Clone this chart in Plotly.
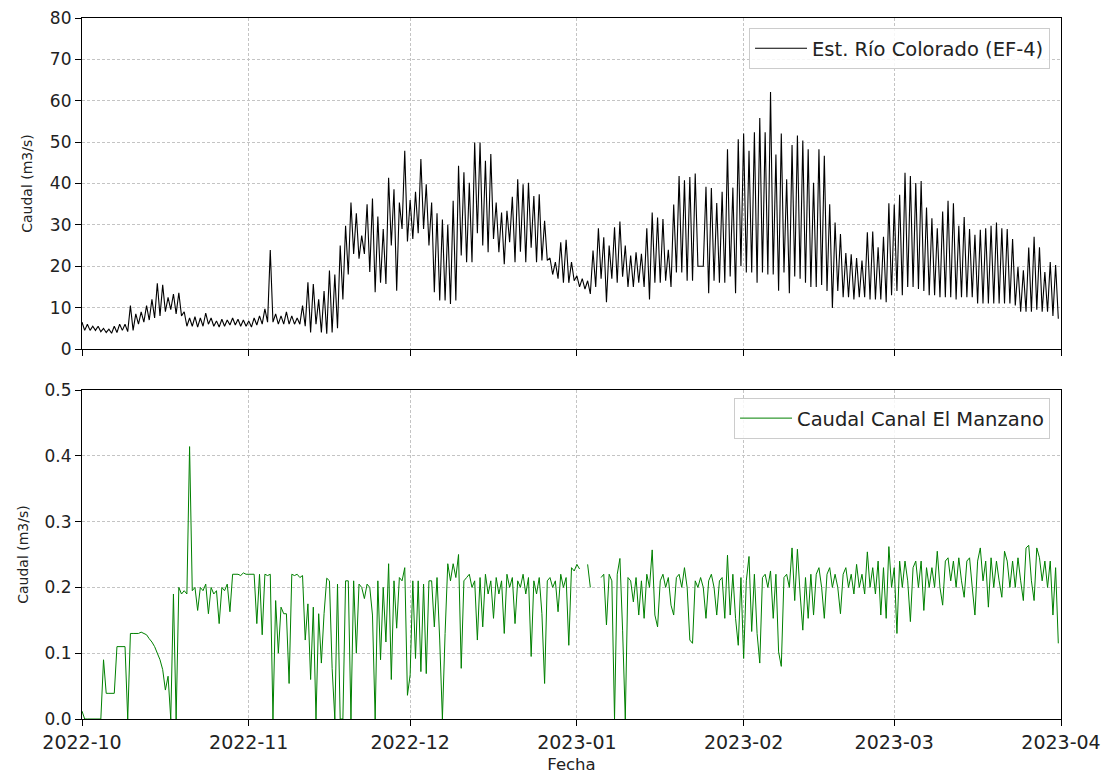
import pandas as pd
import plotly.graph_objects as go

# ---------------- data ----------------
fecha_inicio = "2022-10-01"

# Est. Río Colorado (EF-4): daily peak (00h) and daily trough (12h), m3/s
rio_max = [
    6.5, 6.0, 5.5, 5.5, 5.0, 4.8, 5.5, 6.0, 6.0, 10.5,
    8.5, 9.0, 10.5, 12.0, 15.9, 15.5, 12.5, 13.3, 13.6, 9.0,
    7.5, 7.8, 7.5, 8.7, 7.5, 6.8, 7.2, 7.0, 7.5, 7.2,
    7.0, 6.8, 7.5, 8.0, 9.7, 23.9, 8.5, 8.0, 9.0, 8.0,
    7.5, 10.5, 16.1, 15.7, 12.0, 14.0, 19.0, 18.0, 25.0, 29.8,
    35.4, 32.8, 27.4, 35.0, 36.4, 32.0, 29.0, 41.4, 38.6, 35.4,
    47.9, 36.0, 38.0, 45.9, 39.8, 35.4, 32.8, 31.3, 30.0, 35.8,
    44.3, 42.7, 40.2, 49.9, 49.9, 45.5, 47.1, 35.4, 33.0, 33.4,
    36.8, 41.0, 39.8, 40.2, 37.0, 37.4, 31.0, 22.0, 21.0, 25.8,
    26.4, 21.0, 17.7, 17.0, 16.5, 23.8, 29.2, 27.0, 25.0, 29.4,
    30.8, 25.0, 22.6, 23.4, 23.0, 29.2, 33.0, 31.8, 31.4, 24.0,
    34.9, 41.8, 40.8, 41.6, 42.4, 20.0, 39.2, 38.9, 35.3, 38.0,
    48.3, 39.0, 50.7, 52.1, 47.9, 52.4, 55.8, 52.4, 62.1, 47.0,
    52.1, 41.0, 49.3, 51.6, 50.4, 48.3, 40.2, 48.3, 46.7, 35.0,
    30.6, 27.8, 23.2, 22.9, 22.0, 21.4, 28.2, 28.4, 24.6, 27.1,
    35.2, 34.9, 37.3, 42.6, 41.8, 40.1, 40.6, 34.2, 31.6, 29.2,
    33.2, 35.8, 35.2, 29.8, 31.9, 29.0, 27.6, 28.8, 29.2, 29.8,
    30.6, 29.2, 29.0, 26.6, 19.8, 19.0, 24.5, 27.1, 24.6, 18.6,
    21.0, 20.3,
]
rio_min = [
    4.5, 4.5, 4.5, 4.2, 4.0, 3.8, 4.0, 4.5, 4.2, 4.5,
    6.0, 6.5, 7.0, 7.5, 8.0, 9.0, 9.5, 8.5, 8.0, 5.5,
    5.5, 5.3, 5.5, 6.0, 5.5, 5.3, 5.5, 5.8, 5.8, 5.5,
    5.5, 5.3, 5.8, 6.0, 6.5, 6.5, 6.0, 6.0, 6.0, 6.0,
    6.0, 5.5, 4.0, 6.0, 4.0, 3.7, 4.0, 5.0, 12.0, 18.0,
    23.0, 21.8, 23.0, 18.6, 13.7, 16.0, 15.7, 25.0, 14.1, 29.0,
    26.0, 26.6, 28.0, 29.0, 25.0, 13.7, 11.7, 11.7, 10.9, 11.7,
    22.6, 21.0, 21.0, 28.0, 25.0, 23.4, 26.6, 23.4, 20.5, 25.8,
    21.0, 23.5, 21.0, 24.5, 21.0, 21.4, 21.4, 18.0, 17.0, 16.0,
    16.0, 16.5, 15.0, 14.5, 13.3, 15.0, 17.0, 11.3, 17.0, 16.0,
    17.5, 15.0, 15.0, 16.0, 15.0, 12.0, 16.0, 16.0, 16.5, 15.0,
    18.5, 18.5, 16.5, 16.5, 20.0, 20.0, 13.5, 16.5, 16.0, 16.0,
    17.5, 13.5, 20.0, 18.5, 18.5, 16.0, 18.5, 18.0, 18.0, 14.1,
    18.5, 13.5, 17.5, 17.0, 16.0, 15.0, 15.0, 15.5, 14.0, 9.9,
    14.0, 12.5, 12.5, 12.0, 12.5, 12.5, 12.0, 12.0, 12.0, 11.3,
    13.0, 14.0, 13.0, 15.0, 15.0, 14.5, 14.0, 13.0, 13.0, 12.5,
    12.5, 12.5, 12.0, 12.5, 12.5, 12.5, 11.0, 11.0, 11.0, 11.0,
    11.0, 11.0, 11.0, 10.5, 9.0, 9.0, 9.0, 9.5, 9.0, 9.0,
    8.0, 7.3,
]

# Caudal Canal El Manzano: readings at 00h and 12h of each day, m3/s
canal_00h = [
    0.012, 0.0, 0.0, 0.0, 0.09, 0.039, 0.039, 0.11, 0.11, 0.13,
    0.13, 0.132, 0.128, 0.117, 0.10, 0.075, 0.065, 0.19, 0.20, 0.195,
    0.414, 0.20, 0.20, 0.205, 0.20, 0.195, 0.20, 0.205, 0.22, 0.22,
    0.222, 0.22, 0.22, 0.22, 0.22, 0.22, 0.18, 0.17, 0.16, 0.22,
    0.22, 0.218, 0.175, 0.17, 0.16, 0.16, 0.21, 0.0, 0.0, 0.21,
    0.0, 0.10, 0.20, 0.205, 0.158, 0.21, 0.20, 0.236, 0.21, 0.215,
    0.23, 0.067, 0.092, 0.072, 0.069, 0.21, 0.215, 0.0, 0.236, 0.236,
    0.25, 0.21, 0.22, 0.21, 0.215, 0.22, 0.21, 0.215, 0.21, 0.22,
    0.215, 0.21, 0.22, 0.215, 0.21, 0.215, 0.054, 0.215, 0.21, 0.22,
    0.215, 0.23, 0.235, None, 0.235, None, None, 0.22, 0.22, 0.0,
    0.244, 0.0, 0.21, 0.215, 0.21, 0.22, 0.257, 0.14, 0.22, 0.215,
    0.158, 0.22, 0.23, 0.12, 0.21, 0.215, 0.153, 0.22, 0.158, 0.215,
    0.249, 0.22, 0.112, 0.092, 0.247, 0.22, 0.085, 0.22, 0.225, 0.22,
    0.08, 0.22, 0.26, 0.258, 0.135, 0.153, 0.158, 0.23, 0.153, 0.23,
    0.22, 0.16, 0.23, 0.22, 0.235, 0.22, 0.254, 0.23, 0.24, 0.23,
    0.262, 0.23, 0.24, 0.24, 0.148, 0.24, 0.24, 0.23, 0.23, 0.255,
    0.173, 0.245, 0.24, 0.245, 0.185, 0.245, 0.158, 0.26, 0.24, 0.245,
    0.24, 0.185, 0.24, 0.24, 0.245, 0.18, 0.264, 0.18, 0.245, 0.24,
    0.24, 0.23,
]
canal_12h = [
    0.0, 0.0, 0.0, 0.0, 0.039, 0.039, 0.11, 0.11, 0.0, 0.13,
    0.13, 0.13, 0.122, 0.11, 0.09, 0.044, 0.0, 0.0, 0.19, 0.19,
    0.195, 0.165, 0.195, 0.16, 0.19, 0.145, 0.195, 0.163, 0.22, 0.218,
    0.22, 0.22, 0.145, 0.128, 0.218, 0.0, 0.10, 0.16, 0.054, 0.218,
    0.215, 0.12, 0.06, 0.0, 0.085, 0.214, 0.077, 0.205, 0.0, 0.21,
    0.21, 0.205, 0.183, 0.20, 0.0, 0.09, 0.117, 0.06, 0.138, 0.21,
    0.036, 0.21, 0.21, 0.205, 0.21, 0.14, 0.12, 0.13, 0.21, 0.215,
    0.077, 0.215, 0.20, 0.12, 0.14, 0.19, 0.153, 0.19, 0.13, 0.20,
    0.145, 0.20, 0.19, 0.095, 0.19, 0.16, 0.21, 0.20, 0.163, 0.20,
    0.112, 0.225, 0.228, None, 0.20, None, 0.215, 0.143, 0.21, 0.22,
    0.135, 0.215, 0.178, 0.158, 0.153, 0.20, 0.158, 0.21, 0.20, 0.173,
    0.215, 0.20, 0.20, 0.115, 0.20, 0.20, 0.21, 0.20, 0.21, 0.153,
    0.158, 0.153, 0.215, 0.21, 0.133, 0.13, 0.215, 0.20, 0.153, 0.102,
    0.215, 0.20, 0.18, 0.19, 0.215, 0.22, 0.22, 0.20, 0.22, 0.20,
    0.20, 0.22, 0.20, 0.19, 0.20, 0.19, 0.20, 0.19, 0.158, 0.153,
    0.20, 0.13, 0.20, 0.21, 0.23, 0.20, 0.165, 0.20, 0.20, 0.20,
    0.24, 0.21, 0.20, 0.21, 0.24, 0.20, 0.24, 0.21, 0.17, 0.20,
    0.21, 0.255, 0.20, 0.20, 0.21, 0.26, 0.21, 0.26, 0.21, 0.20,
    0.158, 0.115,
]

meses = ["2022-10-01", "2022-11-01", "2022-12-01", "2023-01-01",
         "2023-02-01", "2023-03-01", "2023-04-01"]
etiquetas_meses = ["2022-10", "2022-11", "2022-12", "2023-01",
                   "2023-02", "2023-03", "2023-04"]

nombre_rio = "Est. Río Colorado (EF-4)"
nombre_canal = "Caudal Canal El Manzano"

# ---------------- build the series ----------------
dias = pd.date_range(fecha_inicio, periods=len(rio_max), freq="D")
tiempo = []
for d in dias:
    tiempo += [d, d + pd.Timedelta(hours=12)]
rio = [v for par in zip(rio_max, rio_min) for v in par]
canal = [v for par in zip(canal_00h, canal_12h) for v in par]

fig = go.Figure()
fig.add_trace(go.Scatter(x=tiempo, y=rio, mode="lines", name=nombre_rio,
                         line=dict(color="black", width=1.1),
                         xaxis="x", yaxis="y", legend="legend"))
fig.add_trace(go.Scatter(x=tiempo, y=canal, mode="lines", name=nombre_canal,
                         line=dict(color="#008000", width=1),
                         connectgaps=False,
                         xaxis="x2", yaxis="y2", legend="legend2"))

FONT = "DejaVu Sans"
grid = dict(showgrid=True, gridcolor="#c4c4c4", griddash="3px,2px", gridwidth=0.8)
frame = dict(showline=True, linecolor="black", linewidth=1.2, mirror=True,
             ticks="outside", ticklen=6, tickcolor="black", tickwidth=1.2,
             zeroline=False, automargin=False)

xcommon = dict(range=[meses[0], meses[-1]], tickvals=meses, ticktext=etiquetas_meses,
               tickfont=dict(size=19, family=FONT, color="#222"), **grid, **frame)

leg = dict(xanchor="right", yanchor="top", itemwidth=52,
           bgcolor="rgba(255,255,255,0.85)", bordercolor="#cccccc", borderwidth=1,
           font=dict(size=19.5, family=FONT, color="#222"))

fig.update_layout(
    width=1104, height=775,
    margin=dict(l=82, r=43, t=18, b=56, autoexpand=False),
    plot_bgcolor="white", paper_bgcolor="white",
    font=dict(family=FONT, size=17, color="#222"),
    xaxis=dict(anchor="y", domain=[0, 1], showticklabels=False, matches="x2", **xcommon),
    xaxis2=dict(anchor="y2", domain=[0, 1], showticklabels=True,
                title=dict(text="Fecha", font=dict(size=16.5, family=FONT), standoff=6),
                **xcommon),
    yaxis=dict(domain=[0.5278, 1], range=[0, 80], dtick=10, tick0=0,
               tickfont=dict(size=17, family=FONT, color="#222"),
               title=dict(text="Caudal (m3/s)", font=dict(size=14, family=FONT), standoff=13),
               **grid, **frame),
    yaxis2=dict(domain=[0, 0.4693], range=[0, 0.5], dtick=0.1, tick0=0, tickformat=".1f",
                tickfont=dict(size=17, family=FONT, color="#222"),
                title=dict(text="Caudal (m3/s)", font=dict(size=14, family=FONT), standoff=12),
                **grid, **frame),
    legend=dict(x=0.9888, y=0.9857, **leg),
    legend2=dict(x=0.9888, y=0.458, **leg),
    showlegend=True,
)

fig.write_html("out.html", config={"displayModeBar": False},
               post_script="document.body.style.margin='0';")
